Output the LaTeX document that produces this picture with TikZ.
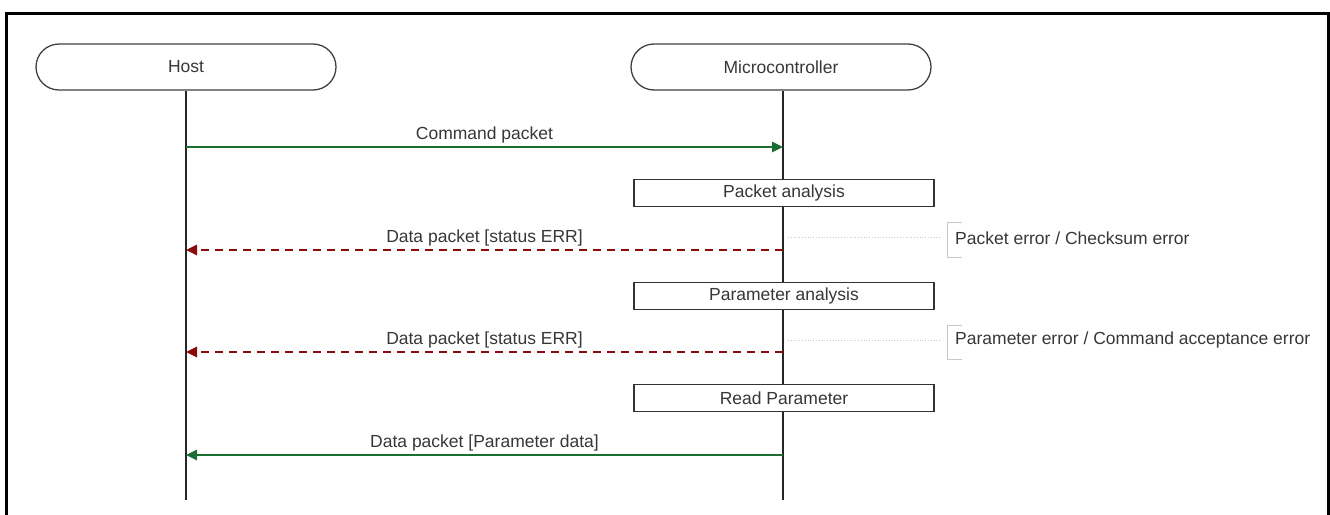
\documentclass[tikz,border=0pt]{standalone}
\usepackage{fontspec}
\setmainfont{Liberation Sans}
\usetikzlibrary{arrows.meta}
\definecolor{okgreen}{RGB}{28,110,48}
\definecolor{errred}{RGB}{139,10,10}
\definecolor{txt}{RGB}{55,55,55}
\definecolor{notegray}{RGB}{200,200,200}
\begin{document}
\begin{tikzpicture}[x=1pt,y=-1pt,
  every node/.style={font=\fontsize{17.5}{20}\selectfont, text=txt},
  actor/.style={draw=black!75, line width=1.3pt, rounded corners=23pt, minimum width=300pt, minimum height=46pt, inner sep=0pt},
  actbox/.style={draw=black!80, line width=1.3pt, minimum width=300pt, minimum height=27pt, inner sep=0pt},
  lifeline/.style={draw=black!85, line width=1.3pt},
  okmsg/.style={draw=okgreen, line width=2.5pt, -{Triangle[length=11pt,width=10pt]}},
  errmsg/.style={draw=errred, line width=2.5pt, dash pattern=on 8pt off 6pt, -{Triangle[length=11pt,width=10pt]}},
  msglabel/.style={above, inner sep=3pt},
  notelink/.style={draw=notegray, line width=0.8pt, dotted},
  notebracket/.style={draw=notegray, line width=1pt},
  notetext/.style={anchor=west, inner sep=0pt}
]
\useasboundingbox (0,0) rectangle (1330,514);
% frame
\draw[line width=3pt, black] (6,516) -- (6,13) -- (1328,13) -- (1328,516);

% actors
\node[actor] (host) at (186,67) {Host};
\node[actor] (mcu) at (781,67) {Microcontroller};

% lifeline ends
\coordinate (hostend) at (186,500);
\coordinate (mcuend) at (783,500);
\draw[lifeline] (host.south) -- (hostend);
\draw[lifeline] (mcu.south -| mcuend) -- (mcuend);

% activity boxes
\node[actbox, fill=white] (pa) at (784,193) {Packet analysis};
\node[actbox, fill=white] (para) at (784,296) {Parameter analysis};
\node[actbox, fill=white] (rp) at (784,398) {Read Parameter};

% message endpoints
\coordinate (h1) at (186,147); \coordinate (m1) at (783,147);
\coordinate (h2) at (186,250); \coordinate (m2) at (783,250);
\coordinate (h3) at (186,352); \coordinate (m3) at (783,352);
\coordinate (h4) at (186,455); \coordinate (m4) at (783,455);

\draw[okmsg] (h1) -- node[msglabel] (l1) {Command packet} (m1);
\draw[errmsg] (m2) -- node[msglabel] (l2) {Data packet [status ERR]} (h2);
\draw[errmsg] (m3) -- node[msglabel] (l3) {Data packet [status ERR]} (h3);
\draw[okmsg] (m4) -- node[msglabel] (l4) {Data packet [Parameter data]} (h4);

% notes
\coordinate (n1a) at (788,237); \coordinate (n1b) at (942,237);
\draw[notelink] (n1a) -- (n1b);
\draw[notebracket] (962,222) -- (947,222) -- (947,257) -- (962,257);
\node[notetext] (note1) at (955,238) {Packet error / Checksum error};

\coordinate (n2a) at (788,340); \coordinate (n2b) at (942,340);
\draw[notelink] (n2a) -- (n2b);
\draw[notebracket] (962,325) -- (947,325) -- (947,359) -- (962,359);
\node[notetext] (note2) at (955,340) {Parameter error / Command acceptance error};
\end{tikzpicture}
\end{document}
